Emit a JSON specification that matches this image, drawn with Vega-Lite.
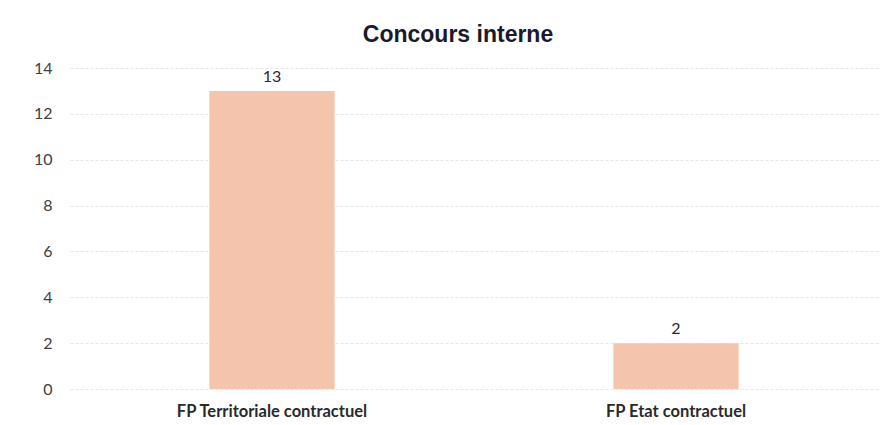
{
  "$schema": "https://vega.github.io/schema/vega-lite/v6.json",
  "autosize": "none",
  "width": 808,
  "height": 321,
  "padding": {"left": 70, "top": 68, "right": 17, "bottom": 36},
  "background": "#ffffff",
  "title": {
    "text": "Concours interne",
    "font": "Liberation Sans",
    "fontSize": 23,
    "fontWeight": "bold",
    "color": "#1a1a2a",
    "anchor": "middle",
    "dx": -16,
    "offset": 13
  },
  "config": {"view": {"stroke": null}},
  "data": {
    "values": [
      {"categorie": "FP Territoriale contractuel", "nombre": 13},
      {"categorie": "FP Etat contractuel", "nombre": 2}
    ]
  },
  "encoding": {
    "x": {
      "field": "categorie",
      "type": "nominal",
      "sort": null,
      "scale": {"paddingInner": 0.69, "paddingOuter": 0.345},
      "axis": {
        "title": null,
        "labelAngle": 0,
        "domain": false,
        "ticks": false,
        "labelLimit": 0,
        "labelFont": "Lato",
        "labelFontSize": 16.5,
        "labelFontWeight": "bold",
        "labelColor": "#2a2a2a",
        "labelPadding": 14
      }
    },
    "y": {
      "field": "nombre",
      "type": "quantitative",
      "scale": {"domain": [0, 14]},
      "axis": {
        "title": null,
        "values": [0, 2, 4, 6, 8, 10, 12, 14],
        "domain": false,
        "ticks": false,
        "labelFont": "Lato",
        "labelFontSize": 16,
        "labelColor": "#404040",
        "labelPadding": 18,
        "gridColor": "#e6e6e6",
        "gridDash": [3, 2]
      }
    }
  },
  "layer": [
    {"mark": {"type": "bar", "color": "#f4c4ad"}},
    {
      "mark": {"type": "text", "dy": -14, "font": "Lato", "fontSize": 16, "color": "#2a2a2a"},
      "encoding": {"text": {"field": "nombre", "type": "quantitative"}}
    }
  ]
}
